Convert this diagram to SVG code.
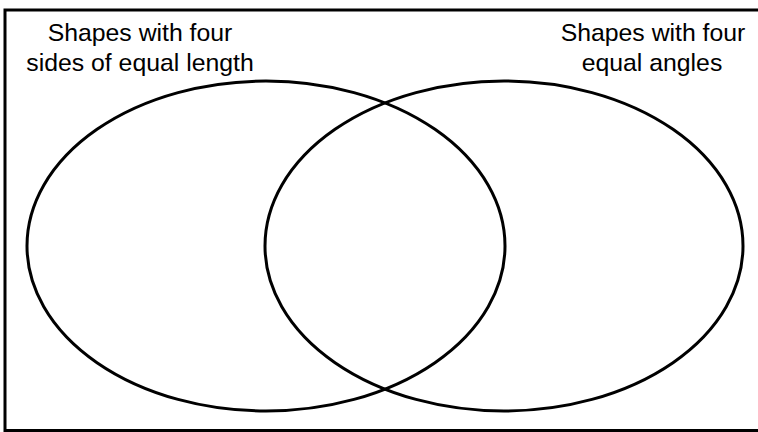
<svg xmlns="http://www.w3.org/2000/svg" width="758" height="432" viewBox="0 0 758 432">
  <style>
    .frame { fill: #ffffff; stroke: #000000; stroke-width: 3; }
    .set { fill: none; stroke: #000000; stroke-width: 3; }
    .label { font-family: "Liberation Sans", Arial, Helvetica, sans-serif; font-size: 24.8px; fill: #000000; text-anchor: middle; }
  </style>
  <rect width="758" height="432" fill="#ffffff"/>
  <rect class="frame" x="5" y="10" width="760" height="420.5"/>
  <g id="set-equal-sides">
    <ellipse class="set" cx="266" cy="246" rx="239" ry="165"/>
    <text class="label" x="140" y="41">Shapes with four</text>
    <text class="label" x="140" y="71">sides of equal length</text>
  </g>
  <g id="set-equal-angles">
    <ellipse class="set" cx="504" cy="246" rx="239" ry="165"/>
    <text class="label" x="653" y="41">Shapes with four</text>
    <text class="label" x="652" y="71">equal angles</text>
  </g>
  <g id="connectors"></g>
</svg>
